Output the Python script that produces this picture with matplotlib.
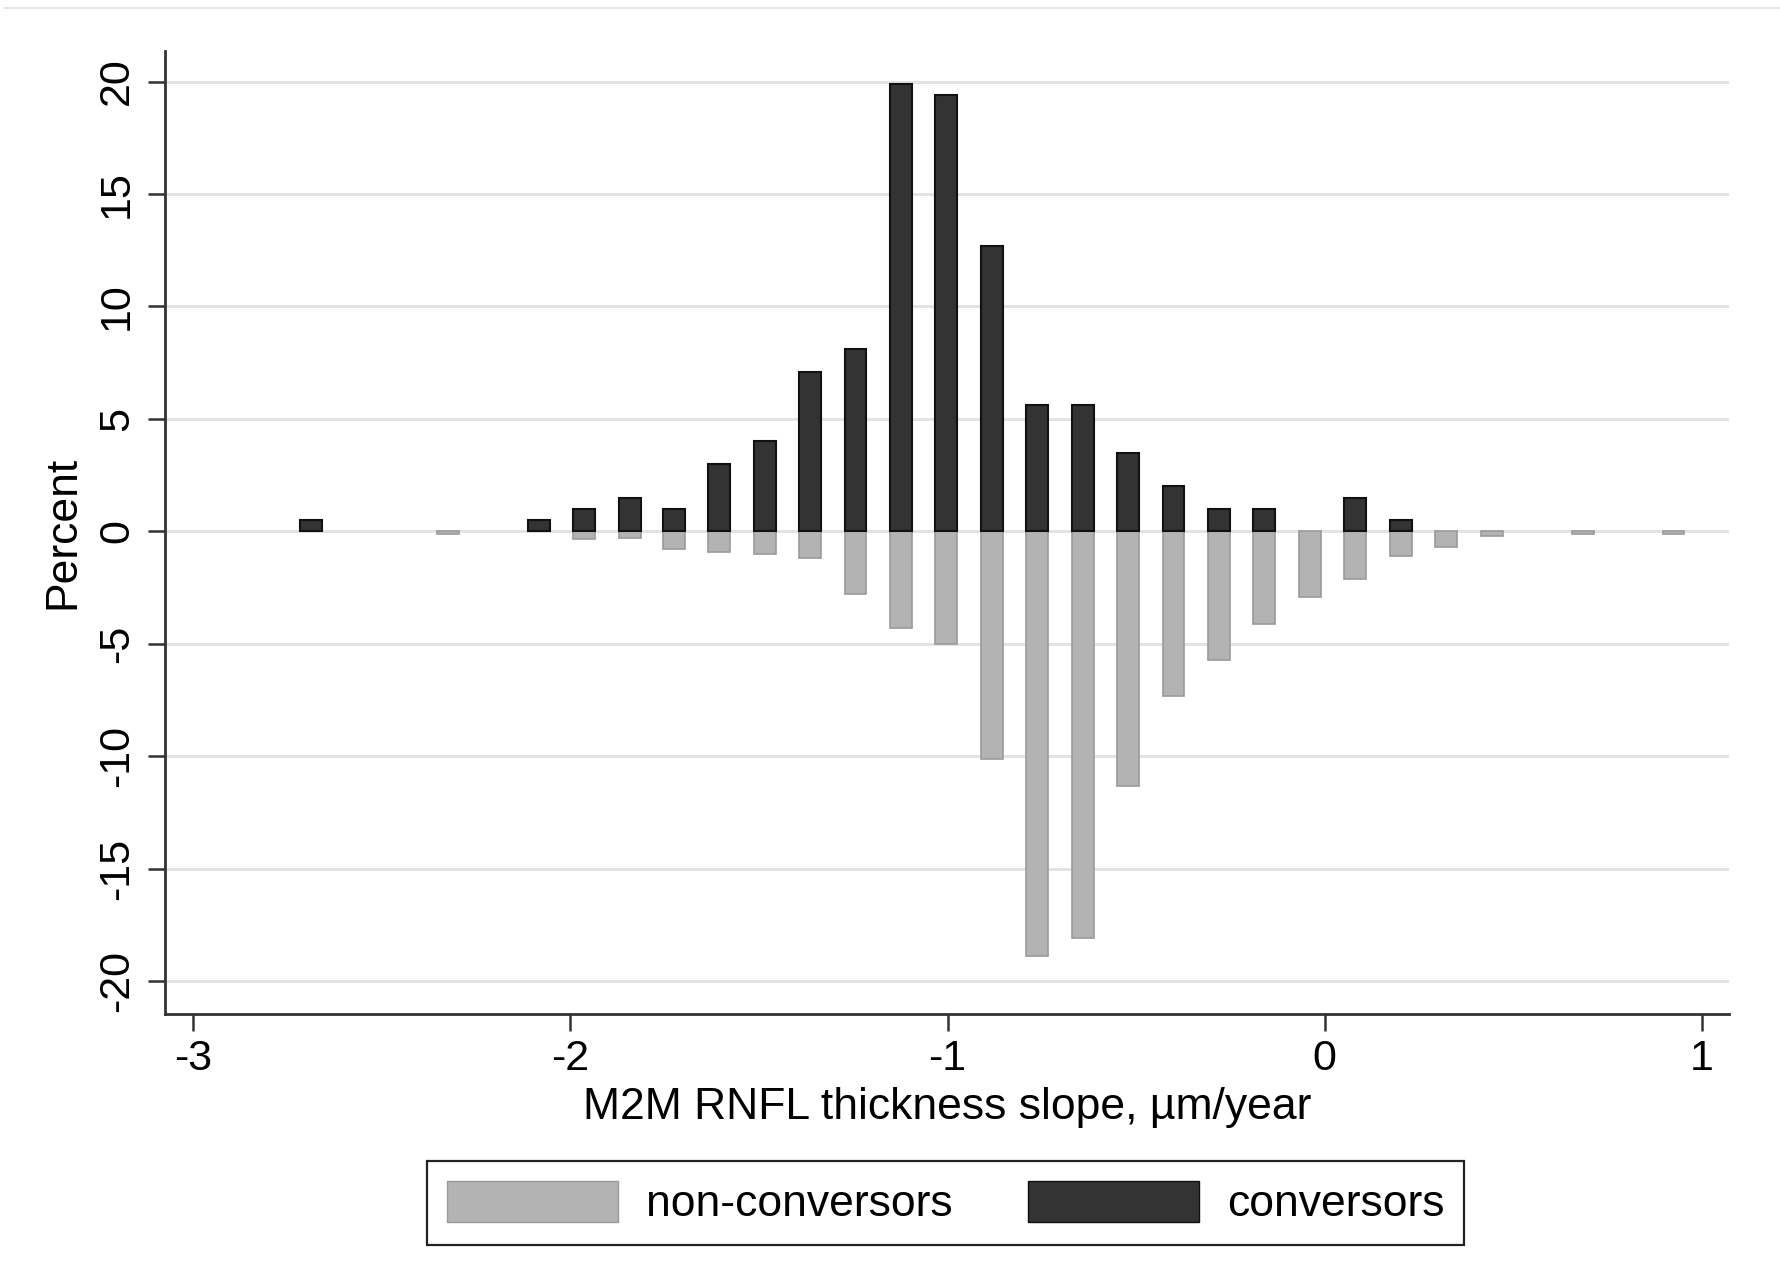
import matplotlib
matplotlib.use("Agg")
import matplotlib.pyplot as plt
from matplotlib.patches import Patch
from matplotlib.lines import Line2D

# Bin centres (M2M RNFL thickness slope, µm/year)
bin_centers = [-2.687, -2.325, -2.084, -1.964, -1.843, -1.726, -1.605, -1.485,
               -1.364, -1.244, -1.123, -1.003, -0.883, -0.762, -0.642, -0.521,
               -0.401, -0.280, -0.160, -0.039, 0.081, 0.202, 0.322, 0.443,
               0.684, 0.925]
# Percent of conversors (plotted upward)
conversors = [0.5, 0.0, 0.5, 1.0, 1.5, 1.0, 3.0, 4.0, 7.1, 8.1, 19.9, 19.4,
              12.7, 5.6, 5.6, 3.5, 2.0, 1.0, 1.0, 0.0, 1.5, 0.5, 0.0, 0.0,
              0.0, 0.0]
# Percent of non-conversors (plotted downward)
non_conversors = [0.0, 0.1, 0.0, 0.35, 0.3, 0.8, 0.9, 1.0, 1.2, 2.8, 4.3, 5.0,
                  10.1, 18.9, 18.1, 11.3, 7.3, 5.7, 4.1, 2.9, 2.1, 1.1, 0.7,
                  0.2, 0.1, 0.1]
x_ticks = [-3, -2, -1, 0, 1]
y_ticks = [-20, -15, -10, -5, 0, 5, 10, 15, 20]
labels = ["non-conversors", "conversors"]

plt.rcParams["font.family"] = ["Liberation Sans", "DejaVu Sans"]
plt.rcParams["axes.unicode_minus"] = False

W, H = 1781, 1287
fig = plt.figure(figsize=(W / 100, H / 100), dpi=100)
ax = fig.add_axes([165 / W, 1 - 1014 / H, (1729 - 165) / W, (1014 - 51) / H])

dark = "#333333"
grey = "#b3b3b3"
bw = 0.058

for yv in y_ticks:
    ax.axhline(yv, color="#e3e3e3", lw=2.2, zorder=0)

nx = [x for x, v in zip(bin_centers, non_conversors) if v > 0]
nv = [-v for v in non_conversors if v > 0]
cx = [x for x, v in zip(bin_centers, conversors) if v > 0]
cv = [v for v in conversors if v > 0]

ax.bar(nx, nv, width=bw, color=grey, edgecolor="#9a9a9a", linewidth=1.2,
       zorder=2)
ax.bar(cx, cv, width=bw, color=dark, edgecolor="#111111", linewidth=1.5,
       zorder=3)

ax.set_xlim(-3.075, 1.072)
ax.set_ylim(-21.46, 21.36)
ax.set_xticks(x_ticks)
ax.set_xticklabels([str(t) for t in x_ticks])
ax.set_yticks(y_ticks)
ax.set_yticklabels([str(t) for t in y_ticks], rotation=90, va="center")

for s in ["top", "right"]:
    ax.spines[s].set_visible(False)
for s in ["left", "bottom"]:
    ax.spines[s].set_linewidth(2.0)
    ax.spines[s].set_color("#333333")

ax.tick_params(axis="both", labelsize=31, length=12, width=1.8, color="#333333")
ax.tick_params(axis="x", pad=6)
ax.tick_params(axis="y", pad=8)

ax.set_xlabel("M2M RNFL thickness slope, µm/year", fontsize=32, labelpad=6)
ax.set_ylabel("Percent", fontsize=32, labelpad=10)

handles = [Patch(facecolor=grey, edgecolor="#9a9a9a"),
           Patch(facecolor=dark, edgecolor="#111111")]
leg = fig.legend(handles, labels, loc="center", bbox_to_anchor=(0.531, 0.0653),
                 ncol=2, fontsize=32, frameon=True, fancybox=False,
                 framealpha=1, edgecolor="#222222", handlelength=3.85,
                 handleheight=1.05, handletextpad=0.62, columnspacing=1.7,
                 borderpad=0.45, borderaxespad=0)
leg.get_frame().set_linewidth(1.6)

fig.add_artist(Line2D([0.003, 1.0], [1 - 8 / H, 1 - 8 / H],
                      transform=fig.transFigure, color="#e6e6e6", lw=1.5))

fig.savefig("out.png", dpi=100, facecolor="white")
